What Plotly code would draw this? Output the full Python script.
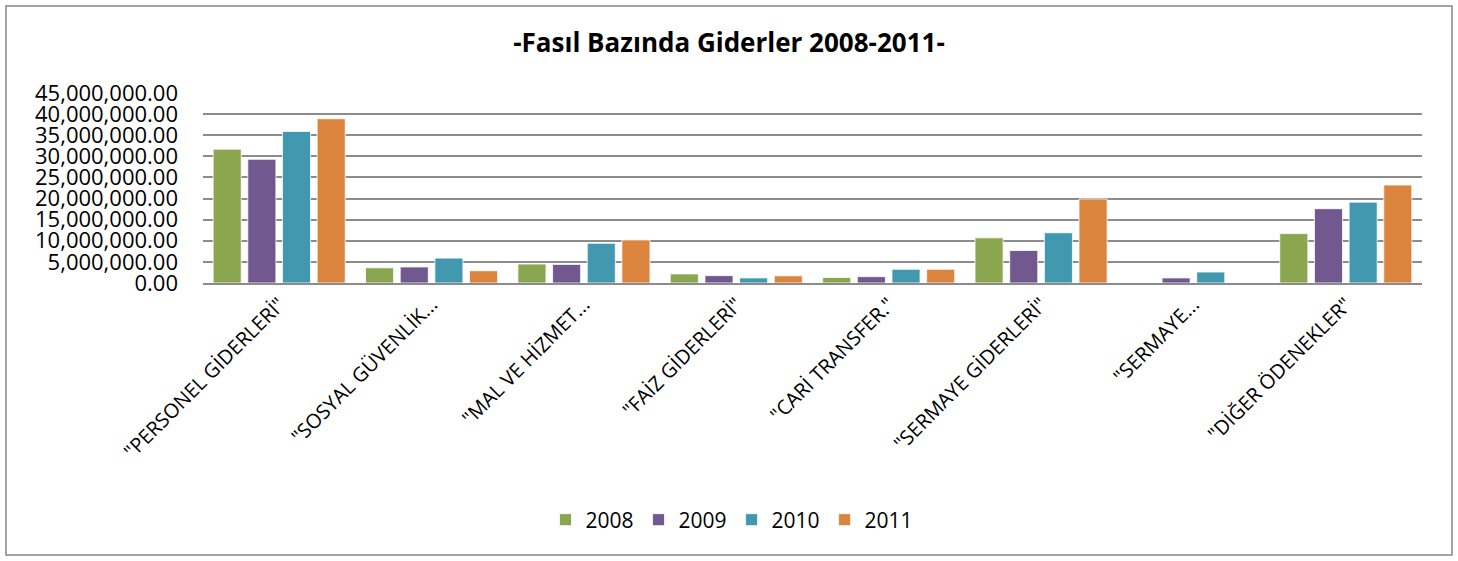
import plotly.graph_objects as go

categories = ['"PERSONEL GİDERLERİ"', '"SOSYAL GÜVENLİK...', '"MAL VE HİZMET...',
              '"FAİZ GİDERLERİ"', '"CARİ TRANSFER."', '"SERMAYE GİDERLERİ"',
              '"SERMAYE...', '"DİĞER ÖDENEKLER"']
years = ["2008", "2009", "2010", "2011"]
v2008 = [31700000, 3600000, 4500000, 2150000, 1300000, 10700000, 0, 11700000]
v2009 = [29300000, 3800000, 4400000, 1750000, 1500000, 7700000, 1200000, 17600000]
v2010 = [35900000, 5900000, 9400000, 1200000, 3250000, 11900000, 2600000, 19150000]
v2011 = [38900000, 2900000, 10200000, 1700000, 3250000, 19900000, 0, 23200000]
series = [v2008, v2009, v2010, v2011]
colors = ["#8AA64F", "#71588F", "#4198AF", "#DB843D"]

fig = go.Figure()
for name, vals, col in zip(years, series, colors):
    fig.add_trace(go.Bar(x=categories, y=vals, name=name,
                         marker=dict(color=col, line=dict(color="rgba(255,255,255,0.8)", width=1))))

FONT = "Open Sans"
fig.update_layout(
    width=1458, height=561,
    paper_bgcolor="white", plot_bgcolor="white",
    margin=dict(l=203, r=36, t=93, b=278, autoexpand=False),
    font=dict(family=FONT, color="black"),
    title=dict(text="<b>-Fasıl Bazında Giderler 2008-2011-</b>", x=0.5, xanchor="center",
               y=1 - 43 / 561, yanchor="middle", font=dict(size=26, family=FONT, color="black")),
    barmode="group", bargap=0.09, bargroupgap=0.19,
    legend=dict(orientation="h", x=(732 - 203) / 1219, xanchor="center", y=(283 - 520) / 190,
                yanchor="middle", font=dict(size=21, family=FONT), traceorder="normal", itemwidth=30),
    showlegend=True,
)
fig.update_yaxes(range=[0, 45000000], dtick=5000000, tickformat=",.2f",
                 showgrid=True, gridcolor="#8c8c8c", gridwidth=1.5,
                 zeroline=False, showline=False, ticks="", ticklabelstandoff=24,
                 tickfont=dict(size=22, family=FONT, color="black"))
fig.update_xaxes(tickangle=-45, showline=True, linecolor="#8c8c8c", linewidth=2,
                 ticks="", tickfont=dict(size=20, family=FONT, color="black"))
fig.add_shape(type="rect", xref="paper", yref="paper",
              x0=(6 - 203) / 1219, x1=(1452 - 203) / 1219,
              y0=(283 - 555) / 190, y1=(283 - 6) / 190,
              line=dict(color="#878787", width=1.5), fillcolor="rgba(0,0,0,0)", layer="below")
fig.write_html("out.html", config={"displayModeBar": False},
               post_script="document.body.style.margin='0';")
